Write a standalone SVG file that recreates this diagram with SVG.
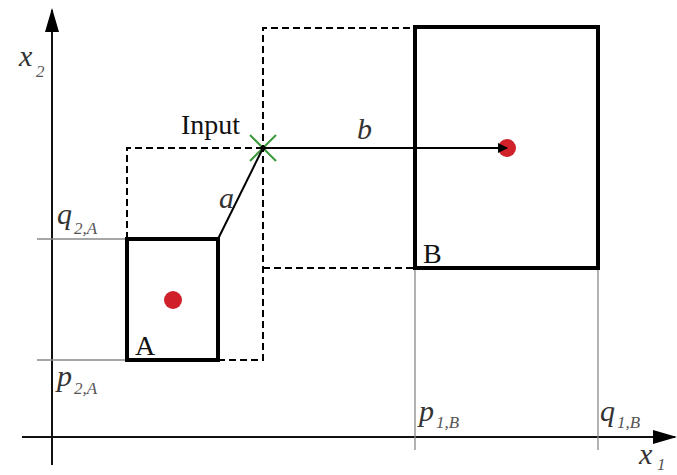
<svg xmlns="http://www.w3.org/2000/svg" width="677" height="475" viewBox="0 0 677 475">
<style>
.axis{stroke:#111;stroke-width:2;fill:none}
.guide{stroke:#888;stroke-width:1.3;fill:none}
.box{stroke:#000;stroke-width:4;fill:none}
.dash{stroke:#000;stroke-width:2;fill:none;stroke-dasharray:7,4}
.conn{stroke:#000;stroke-width:2;fill:none}
.lbl{font-family:"Liberation Serif",serif;font-style:italic;fill:#333;font-size:30px}
.sub{font-family:"Liberation Serif",serif;font-style:italic;fill:#555;font-size:17px}
.name{font-family:"Liberation Serif",serif;fill:#111;font-size:28px}
</style>
<defs>
<marker id="ah" markerWidth="10" markerHeight="10" refX="9" refY="5" orient="auto" markerUnits="userSpaceOnUse">
<path d="M0,0 L10,5 L0,10 z" fill="#000"/>
</marker>
<marker id="axh" markerWidth="24" markerHeight="14" refX="22" refY="7" orient="auto" markerUnits="userSpaceOnUse">
<path d="M0,0 L24,7 L0,14 z" fill="#000"/>
</marker>
</defs>
<rect width="677" height="475" fill="#fff"/>
<g id="axes">
<line class="axis" x1="52" y1="465" x2="52" y2="10" marker-end="url(#axh)"/>
<line class="axis" x1="22" y1="437" x2="675" y2="437" marker-end="url(#axh)"/>
<text class="lbl" x="19" y="66">x</text><text class="sub" x="36" y="77">2</text>
<text class="lbl" x="639" y="464">x</text><text class="sub" x="657" y="470">1</text>
</g>
<g id="guides">
<line class="guide" x1="37" y1="239" x2="127" y2="239"/>
<line class="guide" x1="37" y1="360" x2="127" y2="360"/>
<line class="guide" x1="415" y1="268" x2="415" y2="450"/>
<line class="guide" x1="598" y1="268" x2="598" y2="450"/>
<text class="lbl" x="57" y="224">q</text><text class="sub" x="74" y="234">2,A</text>
<text class="lbl" x="57" y="386">p</text><text class="sub" x="74" y="394">2,A</text>
<text class="lbl" x="419" y="421">p</text><text class="sub" x="436" y="428">1,B</text>
<text class="lbl" x="600" y="421">q</text><text class="sub" x="617" y="428">1,B</text>
</g>
<g id="dashed">
<polyline class="dash" points="127,239 127,148 263,148"/>
<polyline class="dash" points="218,360 263,360 263,28 415,28"/>
<line class="dash" x1="263" y1="268" x2="415" y2="268"/>
</g>
<g id="nodeA">
<rect class="box" x="127" y="239" width="91" height="121"/>
<circle cx="173" cy="300" r="9" fill="#d0202a"/>
<text class="name" x="135" y="355">A</text>
</g>
<g id="nodeB">
<rect class="box" x="415" y="27" width="183" height="241"/>
<circle cx="507" cy="148" r="9" fill="#d0202a"/>
<text class="name" x="423" y="263">B</text>
</g>
<g id="input">
<line x1="250" y1="135" x2="276" y2="161" stroke="#3a9a3a" stroke-width="2"/>
<line x1="250" y1="161" x2="276" y2="135" stroke="#3a9a3a" stroke-width="2"/>
<circle cx="263" cy="148" r="2.5" fill="#000"/>
<text class="name" x="181" y="134">Input</text>
</g>
<g id="connectors">
<line class="conn" x1="218" y1="239" x2="263" y2="148"/>
<line class="conn" x1="263" y1="148" x2="507" y2="148" marker-end="url(#ah)"/>
<text class="lbl" x="219" y="208">a</text>
<text class="lbl" x="357" y="139">b</text>
</g>
</svg>
